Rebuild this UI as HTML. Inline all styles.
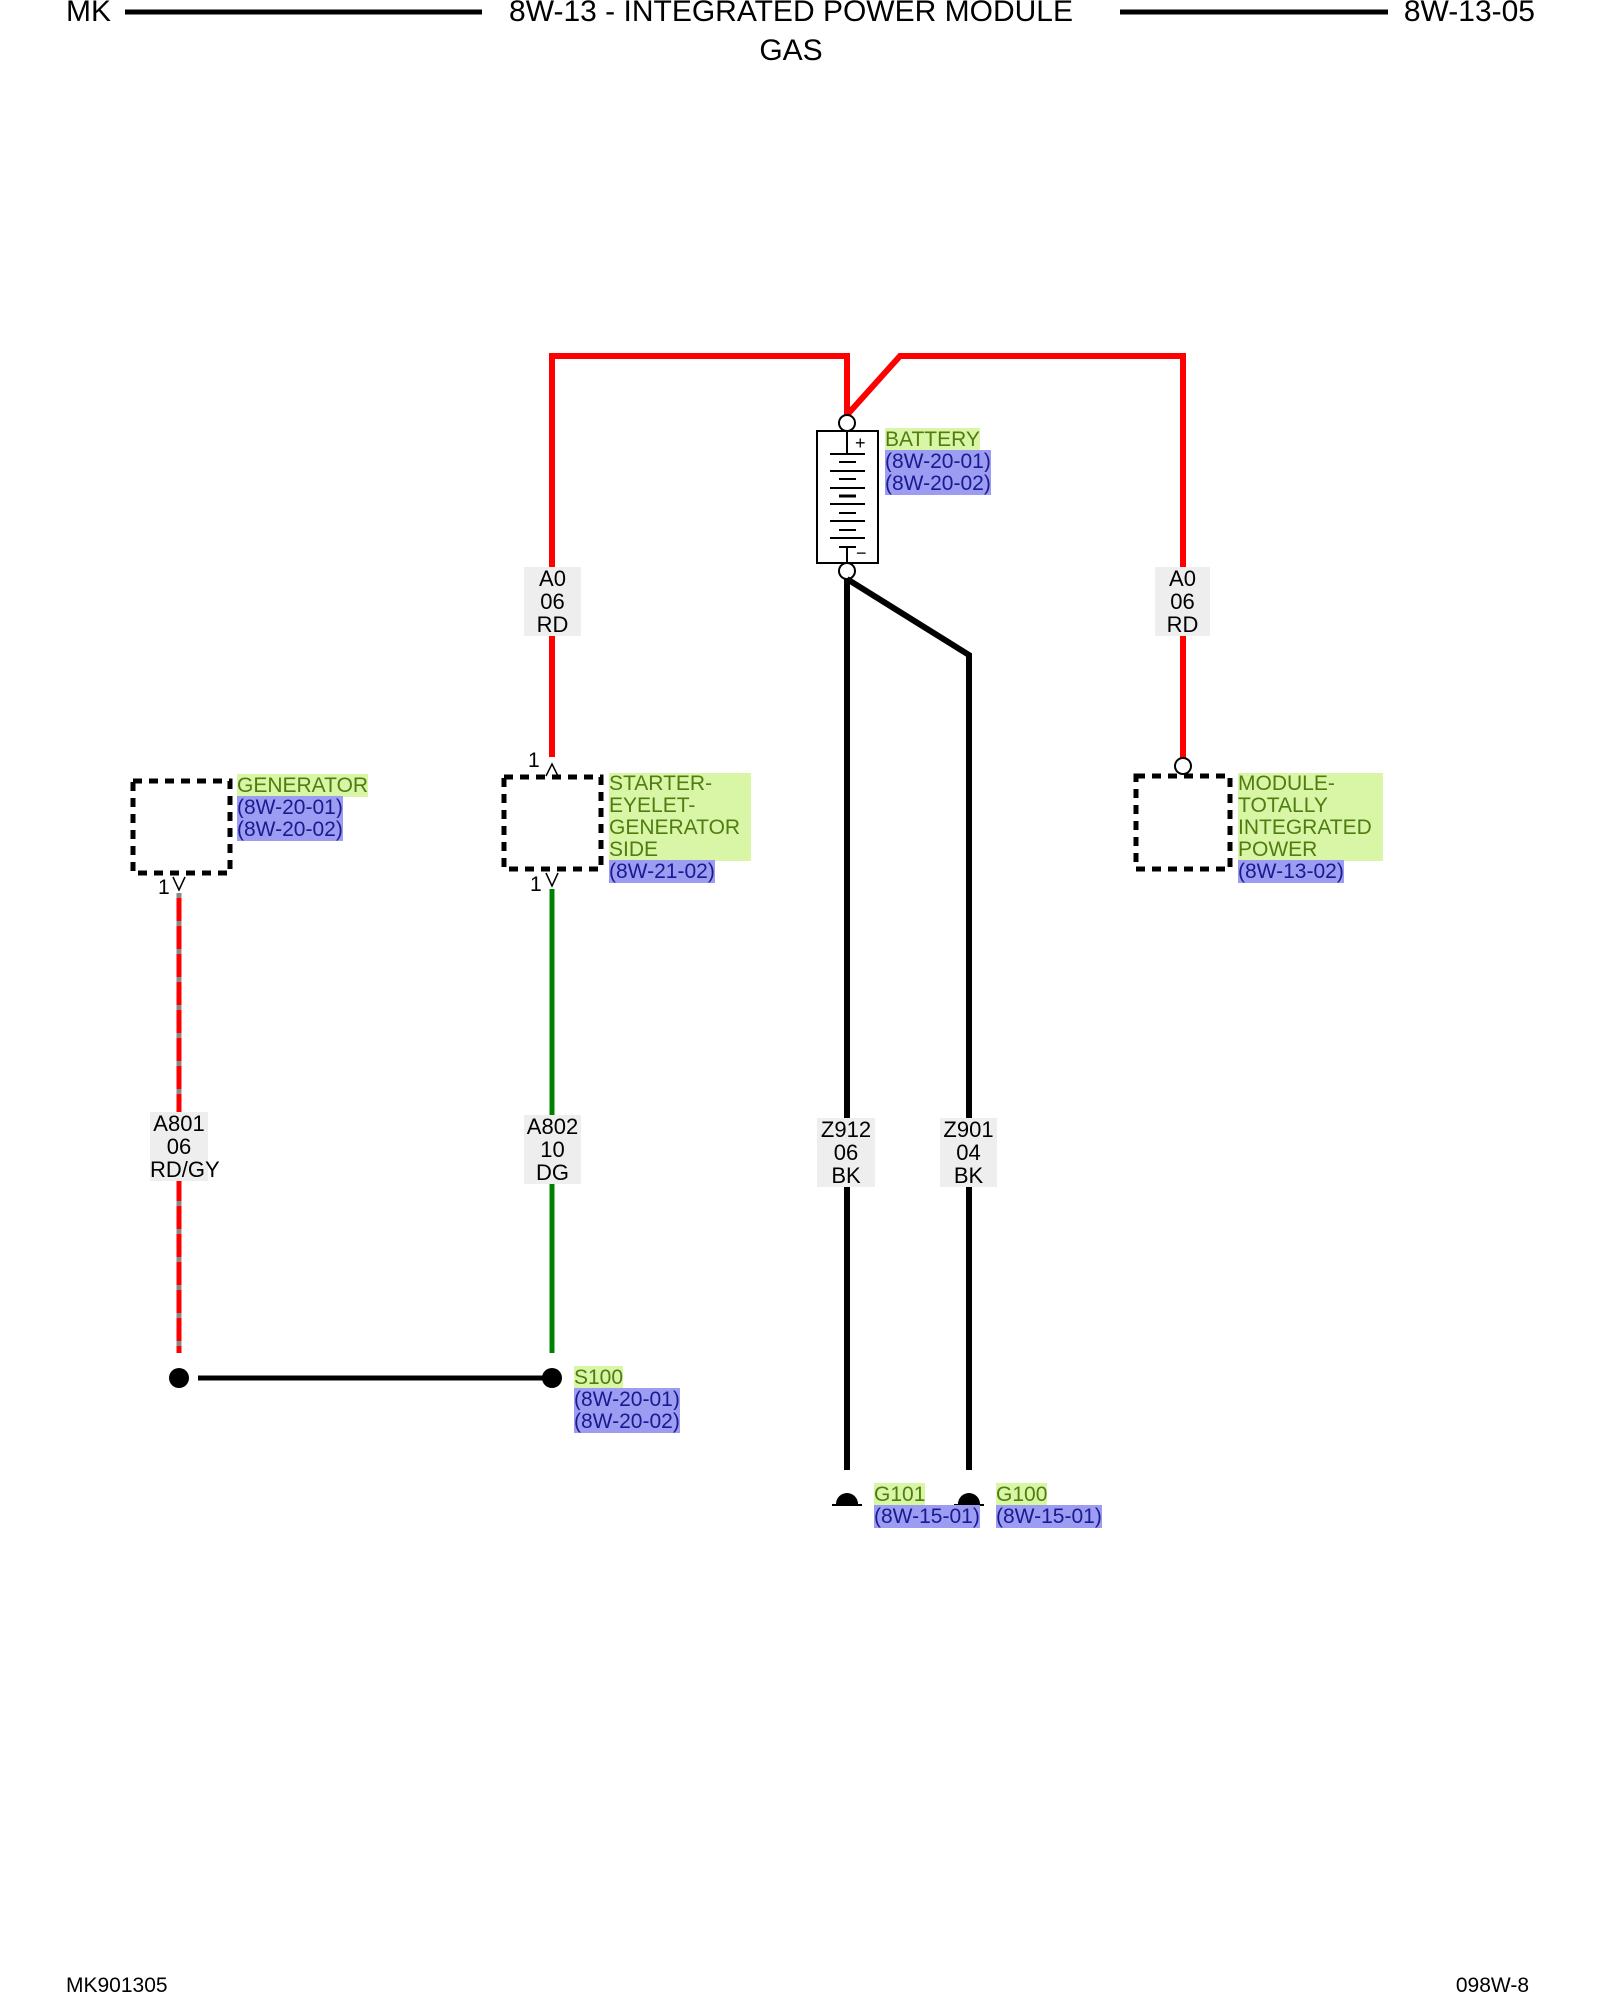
<!DOCTYPE html>
<html><head><meta charset="utf-8"><style>
body{margin:0;background:#fff;}
.wrap{position:relative;width:1600px;height:2000px;overflow:hidden;font-family:"Liberation Sans",sans-serif;}
svg{position:absolute;left:0;top:0;}
.t{position:absolute;font-size:21px;line-height:22px;}
.g{background:#d9f5a6;color:#4f7d10;}
.b{background:#9c9cf2;color:#1a1a90;}
.w{position:absolute;background:#eeeeee;text-align:center;font-size:22px;line-height:23px;color:#000;}
</style></head><body><div class="wrap">
<svg width="1600" height="2000" viewBox="0 0 1600 2000">
<line x1="125" y1="12" x2="482" y2="12" stroke="#000" stroke-width="5"/>
<line x1="1120" y1="12" x2="1388" y2="12" stroke="#000" stroke-width="5"/>
<polyline points="552,757 552,356 847,356 847,415" fill="none" stroke="#f00" stroke-width="6"/>
<polyline points="847,415 900,356 1183,356 1183,758" fill="none" stroke="#f00" stroke-width="6"/>
<circle cx="847" cy="423" r="8" fill="#fff" stroke="#000" stroke-width="2"/>
<circle cx="1183" cy="766" r="8" fill="#fff" stroke="#000" stroke-width="2"/>
<rect x="817" y="431" width="61" height="132" fill="#fff" stroke="#000" stroke-width="2"/>
<line x1="847" y1="431" x2="847" y2="454" stroke="#000" stroke-width="2"/>
<line x1="847" y1="547" x2="847" y2="563" stroke="#000" stroke-width="2"/>
<text x="855" y="449" font-size="18" font-family="Liberation Sans">+</text>
<text x="856" y="559" font-size="18" font-family="Liberation Sans">−</text>
<g stroke="#000" stroke-width="2">
<line x1="830" y1="454" x2="865" y2="454"/><line x1="839" y1="462" x2="856" y2="462"/>
<line x1="830" y1="471" x2="865" y2="471"/><line x1="839" y1="479" x2="856" y2="479"/>
<line x1="830" y1="488" x2="865" y2="488"/><line x1="839" y1="496" x2="856" y2="496" stroke-width="3"/>
<line x1="830" y1="504" x2="865" y2="504"/><line x1="839" y1="513" x2="856" y2="513"/>
<line x1="830" y1="521" x2="865" y2="521"/><line x1="839" y1="530" x2="856" y2="530"/>
<line x1="830" y1="538" x2="865" y2="538"/><line x1="839" y1="547" x2="856" y2="547"/>
</g>
<circle cx="847" cy="571" r="8" fill="#fff" stroke="#000" stroke-width="2"/>
<line x1="847" y1="579" x2="847" y2="1470" stroke="#000" stroke-width="6"/>
<polyline points="847,579 969,655 969,1470" fill="none" stroke="#000" stroke-width="6"/>
<path d="M836,1504 A11,11 0 1,1 858,1504 Z" fill="#000"/>
<line x1="832" y1="1505" x2="862" y2="1505" stroke="#000" stroke-width="2"/>
<path d="M958,1504 A11,11 0 1,1 980,1504 Z" fill="#000"/>
<line x1="954" y1="1505" x2="984" y2="1505" stroke="#000" stroke-width="2"/>
<rect x="133" y="781" width="97" height="92" fill="none" stroke="#000" stroke-width="5" stroke-dasharray="9,7"/>
<rect x="504" y="777" width="97" height="92" fill="none" stroke="#000" stroke-width="5" stroke-dasharray="9,7"/>
<rect x="1136" y="776" width="94" height="93" fill="none" stroke="#000" stroke-width="5" stroke-dasharray="9,7"/>
<polyline points="546,776 552,764 558,776" fill="none" stroke="#000" stroke-width="1.5"/>
<polyline points="173,877 179,890 185,877" fill="none" stroke="#000" stroke-width="1.5"/>
<polyline points="546,873 552,886 558,873" fill="none" stroke="#000" stroke-width="1.5"/>
<line x1="179" y1="893" x2="179" y2="1353" stroke="#f00" stroke-width="5"/>
<line x1="179" y1="893" x2="179" y2="1353" stroke="#888" stroke-width="5" stroke-dasharray="5,23"/>
<line x1="552" y1="889" x2="552" y2="1353" stroke="#008000" stroke-width="5"/>
<line x1="198" y1="1378" x2="552" y2="1378" stroke="#000" stroke-width="5"/>
<circle cx="179" cy="1378" r="10" fill="#000"/>
<circle cx="552" cy="1378" r="10" fill="#000"/>
</svg>

<div class="t" style="left:66px;top:-4px;font-size:30px;line-height:32px;">MK</div>
<div class="t" style="left:495px;top:-4px;width:592px;text-align:center;font-size:30px;line-height:32px;">8W-13 - INTEGRATED POWER MODULE</div>
<div class="t" style="left:700px;top:35px;width:182px;text-align:center;font-size:30px;line-height:32px;">GAS</div>
<div class="t" style="left:1400px;top:-4px;width:135px;text-align:right;font-size:30px;line-height:32px;">8W-13-05</div>

<div class="w" style="left:524px;top:567px;width:57px;">A0<br>06<br>RD</div>
<div class="w" style="left:1155px;top:567px;width:55px;">A0<br>06<br>RD</div>
<div class="w" style="left:150px;top:1112px;width:58px;">A801<br>06<br>RD/GY</div>
<div class="w" style="left:524px;top:1115px;width:57px;">A802<br>10<br>DG</div>
<div class="w" style="left:817px;top:1118px;width:58px;">Z912<br>06<br>BK</div>
<div class="w" style="left:940px;top:1118px;width:57px;">Z901<br>04<br>BK</div>

<div class="t" style="left:885px;top:429px;"><span class="g">BATTERY</span><br><span class="b">(8W-20-01)</span><br><span class="b">(8W-20-02)</span></div>
<div class="t" style="left:237px;top:775px;"><span class="g">GENERATOR</span><br><span class="b">(8W-20-01)</span><br><span class="b">(8W-20-02)</span></div>
<div class="t" style="left:609px;top:773px;"><div class="g" style="width:142px;">STARTER-<br>EYELET-<br>GENERATOR<br>SIDE</div><span class="b">(8W-21-02)</span></div>
<div class="t" style="left:1238px;top:773px;"><div class="g" style="width:145px;">MODULE-<br>TOTALLY<br>INTEGRATED<br>POWER</div><span class="b">(8W-13-02)</span></div>
<div class="t" style="left:574px;top:1367px;"><span class="g">S100</span><br><span class="b">(8W-20-01)</span><br><span class="b">(8W-20-02)</span></div>
<div class="t" style="left:874px;top:1484px;"><span class="g">G101</span><br><span class="b">(8W-15-01)</span></div>
<div class="t" style="left:996px;top:1484px;"><span class="g">G100</span><br><span class="b">(8W-15-01)</span></div>

<div class="t" style="left:528px;top:750px;">1</div>
<div class="t" style="left:158px;top:877px;">1</div>
<div class="t" style="left:530px;top:874px;">1</div>

<div class="t" style="left:66px;top:1975px;">MK901305</div>
<div class="t" style="left:1400px;top:1975px;width:129px;text-align:right;">098W-8</div>
</div></body></html>
